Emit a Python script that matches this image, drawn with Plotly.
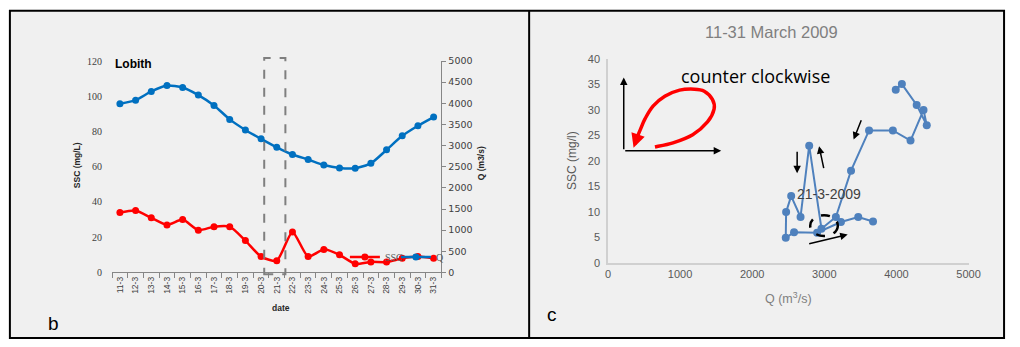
import plotly.graph_objects as go

# ---------------- data ----------------
dates = ["11-3", "12-3", "13-3", "14-3", "15-3", "16-3", "17-3", "18-3", "19-3", "20-3",
         "21-3", "22-3", "23-3", "24-3", "25-3", "26-3", "27-3", "28-3", "29-3", "30-3", "31-3"]
q_m3s = [3990, 4075, 4280, 4420, 4375, 4195, 3950, 3620, 3370, 3160,
         2960, 2790, 2670, 2540, 2470, 2465, 2580, 2900, 3230, 3470, 3675]
ssc_mgl = [34.0, 35.1, 31.0, 27.0, 30.0, 24.0, 26.0, 26.0, 18.1, 9.0,
           6.7, 23.0, 9.0, 13.1, 10.0, 4.9, 6.0, 5.9, 8.0, 9.0, 8.1]
b_left_ticks = [0, 20, 40, 60, 80, 100, 120]
b_right_ticks = [0, 500, 1000, 1500, 2000, 2500, 3000, 3500, 4000, 4500, 5000]
c_x_ticks = [0, 1000, 2000, 3000, 4000, 5000]
c_y_ticks = [0, 5, 10, 15, 20, 25, 30, 35, 40]

W, H = 1020, 347


def px(x):
    return x / W


def py(y):
    return 1 - y / H


RED = "#ff0000"
BLUE = "#0070c0"
CBLUE = "#4f81bd"

fig = go.Figure()

# panel b
fig.add_trace(go.Scatter(
    x=dates, y=ssc_mgl, name="SSC", mode="lines+markers",
    line=dict(color=RED, width=2.5, shape="spline", smoothing=0.6),
    marker=dict(color=RED, size=7), xaxis="x", yaxis="y"))
fig.add_trace(go.Scatter(
    x=dates, y=q_m3s, name="Q", mode="lines+markers",
    line=dict(color=BLUE, width=2.5, shape="spline", smoothing=0.6),
    marker=dict(color=BLUE, size=7), xaxis="x", yaxis="y2"))

# panel c
fig.add_trace(go.Scatter(
    x=q_m3s, y=ssc_mgl, mode="lines+markers", showlegend=False,
    line=dict(color=CBLUE, width=2), marker=dict(color=CBLUE, size=8),
    xaxis="x2", yaxis="y3", cliponaxis=False))

AXG = "#868686"
fig.update_layout(
    width=W, height=H, autosize=False,
    margin=dict(l=0, r=0, t=0, b=0),
    paper_bgcolor="white", plot_bgcolor="white",
    xaxis=dict(domain=[px(110.7), px(445)], anchor="y", type="category",
               range=[-0.5, 20.5], showline=True, linecolor=AXG, linewidth=1,
               ticks="outside", tickson="boundaries", ticklen=5, tickcolor=AXG,
               tickangle=-90, tickfont=dict(family="Liberation Sans", size=8.5, color="#404040"),
               showgrid=False, zeroline=False, fixedrange=True),
    yaxis=dict(domain=[py(276), py(57)], anchor="x", range=[0, 120],
               tickvals=b_left_ticks, showline=False, ticks="outside", ticklen=7,
               tickcolor="rgba(0,0,0,0)",
               tickfont=dict(family="Liberation Serif", size=10, color="#404040"),
               showgrid=False, zeroline=False),
    yaxis2=dict(overlaying="y", side="right", anchor="x", range=[0, 5000],
                tickvals=b_right_ticks, showline=True, linecolor=AXG, linewidth=1,
                ticks="outside", ticklen=4, tickcolor=AXG,
                tickfont=dict(family="DejaVu Sans", size=9.5, color="#404040"),
                showgrid=False, zeroline=False),
    xaxis2=dict(domain=[px(614), px(980)], anchor="y3", range=[0, 5000],
                tickvals=c_x_ticks, showline=True, linecolor="#d0d0d0", linewidth=1.5,
                ticks="", tickfont=dict(family="Liberation Sans", size=11, color="#595959"),
                showgrid=False, zeroline=False),
    yaxis3=dict(domain=[py(266), py(55)], anchor="x2", range=[0, 40],
                tickvals=c_y_ticks, showline=True, linecolor="#d0d0d0", linewidth=1.5,
                ticks="outside", ticklen=4, tickcolor="rgba(0,0,0,0)",
                tickfont=dict(family="Liberation Sans", size=11, color="#595959"),
                showgrid=False, zeroline=False),
    legend=dict(orientation="h", x=px(347), y=py(260), xanchor="left", yanchor="middle",
                bgcolor="rgba(0,0,0,0)", borderwidth=0,
                font=dict(family="Liberation Serif", size=10, color="#595959"),
                itemwidth=30, tracegroupgap=0, entrywidth=6, entrywidthmode="pixels"),
    showlegend=True,
)

shapes = []
# frame + panel backgrounds
shapes.append(dict(type="rect", xref="paper", yref="paper", x0=px(7), x1=px(1016),
                   y0=py(344), y1=py(5), line=dict(color="black", width=2),
                   fillcolor="#f0f0f0", layer="below"))
shapes.append(dict(type="line", xref="paper", yref="paper", x0=px(534), x1=px(534),
                   y0=py(344), y1=py(5), line=dict(color="black", width=2)))
# dashed box around 20/21-3 in panel b
shapes.append(dict(type="rect", xref="x", yref="y domain", x0=9.2, x1=10.55,
                   y0=-0.008, y1=1.014, line=dict(color="#7f7f7f", width=2, dash="dash")))

# panel c schematic red loop (decoration), drawn as smooth path in Q/SSC units
loop = [(651.6, 22.75), (901.6, 23.56), (1174.9, 25.16), (1379.8, 27.68), (1471.3, 30.2),
        (1448, 32.1), (1334.7, 33.7), (1198, 34.1), (993, 33.9), (788, 32.7),
        (628, 30.8), (515, 28.3), (447, 26.1), (400, 24.5)]


def smooth_path(pts):
    d = "M %.2f,%.2f" % pts[0]
    for i in range(len(pts) - 1):
        p0 = pts[i - 1] if i > 0 else pts[i]
        p1, p2 = pts[i], pts[i + 1]
        p3 = pts[i + 2] if i + 2 < len(pts) else pts[i + 1]
        c1 = (p1[0] + (p2[0] - p0[0]) / 6, p1[1] + (p2[1] - p0[1]) / 6)
        c2 = (p2[0] - (p3[0] - p1[0]) / 6, p2[1] - (p3[1] - p1[1]) / 6)
        d += " C %.2f,%.2f %.2f,%.2f %.2f,%.2f" % (c1[0], c1[1], c2[0], c2[1], p2[0], p2[1])
    return d


shapes.append(dict(type="path", xref="x2", yref="y3", path=smooth_path(loop),
                   line=dict(color=RED, width=3.5)))
# dashed ellipse around 21-3-2009
shapes.append(dict(type="circle", xref="x2", yref="y3", x0=2804, x1=3187, y0=5.25, y1=9.35,
                   line=dict(color="black", width=2.5, dash="dash")))
fig.update_layout(shapes=shapes)

ann = []
TXT = "#262626"


def label(text, x, y, size, color=TXT, family="Liberation Sans", angle=0, xanchor="center"):
    return dict(text=text, xref="paper", yref="paper", x=px(x), y=py(y),
                xanchor=xanchor, yanchor="middle", textangle=angle, showarrow=False,
                font=dict(family=family, size=size, color=color))


ann.append(label("<b>Lobith</b>", 112, 60, 12, color="black", xanchor="left"))
ann.append(label("<b>SSC (mg/L)</b>", 75, 165, 8.5, angle=-90))
ann.append(label("<b>Q (m3/s)</b>", 486, 163, 8.5, angle=-90))
ann.append(label("<b>date</b>", 282, 313, 8.5))
ann.append(label("b", 51, 329, 19, color="black"))
ann.append(label("c", 557, 320, 19, color="black"))
ann.append(label("11-31 March 2009", 780, 27, 16.5, color="#7f7f7f"))
ann.append(label("SSC (mg/l)", 578, 160, 12, color="#595959", angle=-90))
ann.append(label("Q (m<sup>3</sup>/s)", 797, 302, 12.5, color="#7f7f7f"))
ann.append(dict(text="counter clockwise", xref="x2", yref="y3", x=984, y=36.6,
                xanchor="left", yanchor="middle", showarrow=False,
                font=dict(family="Open Sans", size=18, color="black")))
ann.append(dict(text="21-3-2009", xref="x2", yref="y3", x=3060, y=13.46,
                xanchor="center", yanchor="middle",
                showarrow=False, font=dict(family="Liberation Sans", size=14, color="#404040")))


def arrow(x0, y0, x1, y1, color="black", width=1.5, size=1.0):
    return dict(text="", xref="x2", yref="y3", axref="x2", ayref="y3",
                ax=x0, ay=y0, x=x1, y=y1, showarrow=True, arrowhead=2,
                arrowsize=size, arrowwidth=width, arrowcolor=color, standoff=0, startstandoff=0)


# schematic axes
ann.append(arrow(218.6, 22.0, 218.6, 36.4))
ann.append(arrow(218.6, 22.0, 1570, 22.0))
# red loop arrow head
ann.append(arrow(420, 25.3, 355, 22.6, color=RED, width=3.5, size=0.8))
# direction arrows
ann.append(arrow(2623, 22.1, 2623, 17.6))
ann.append(arrow(2996, 18.3, 2927, 22.9))
ann.append(arrow(3520, 28.3, 3406, 24.2))
ann.append(arrow(2769, 3.66, 3324, 5.55))
fig.update_layout(annotations=ann)

fig.write_html(
    "out.html",
    config={"displayModeBar": False},
    post_script="document.body.style.margin='0';document.documentElement.style.overflow='hidden';",
)
